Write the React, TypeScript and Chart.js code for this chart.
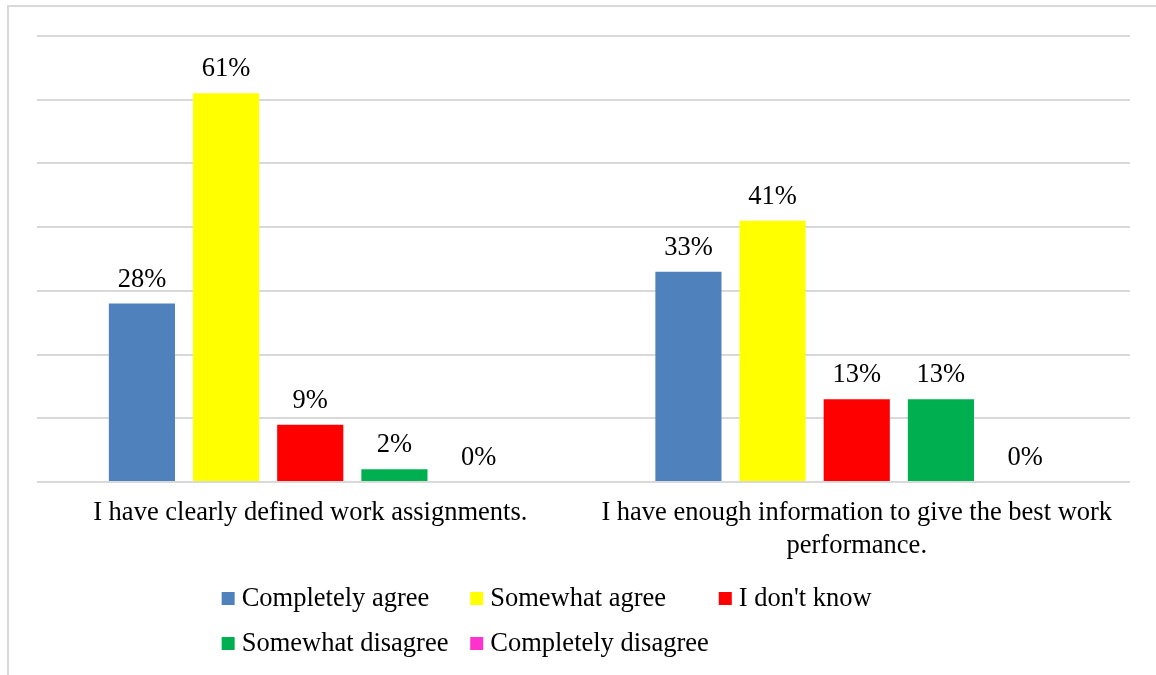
import React, { useEffect, useRef } from "react";
import { Chart, registerables } from "chart.js";

Chart.register(...registerables);

const categories: string[][] = [
  ["I have clearly defined work assignments."],
  ["I have enough information to give the best work", "performance."],
];
const seriesNames = [
  "Completely agree",
  "Somewhat agree",
  "I don't know",
  "Somewhat disagree",
  "Completely disagree",
];
const completelyAgree = [28, 33];
const somewhatAgree = [61, 41];
const dontKnow = [9, 13];
const somewhatDisagree = [2, 13];
const completelyDisagree = [0, 0];
const seriesColors = ["#4F81BD", "#FFFF00", "#FF0000", "#00B050", "#FF33CC"];

const FONT_FAMILY = "'Liberation Serif', 'Times New Roman', serif";
const FONT_SIZE = 26.5;

const framePlugin = {
  id: "frame",
  beforeDraw(chart: any) {
    const ctx = chart.ctx;
    ctx.save();
    ctx.fillStyle = "#ffffff";
    ctx.fillRect(0, 0, chart.width, chart.height);
    ctx.strokeStyle = "#d9d9d9";
    ctx.lineWidth = 2;
    ctx.beginPath();
    ctx.moveTo(8, chart.height + 5);
    ctx.lineTo(8, 6);
    ctx.lineTo(chart.width + 5, 6);
    ctx.stroke();
    ctx.restore();
  },
};

const valueLabelPlugin = {
  id: "valueLabels",
  afterDatasetsDraw(chart: any) {
    const ctx = chart.ctx;
    ctx.save();
    ctx.font = `${FONT_SIZE}px ${FONT_FAMILY}`;
    ctx.fillStyle = "#000000";
    ctx.textAlign = "center";
    ctx.textBaseline = "alphabetic";
    chart.data.datasets.forEach((ds: any, di: number) => {
      const meta = chart.getDatasetMeta(di);
      meta.data.forEach((el: any, i: number) => {
        const v = ds.data[i];
        ctx.fillText(`${v}%`, el.x, el.y - 17);
      });
    });
    ctx.restore();
  },
};

const legendPlugin = {
  id: "gridLegend",
  afterDraw(chart: any) {
    const ctx = chart.ctx;
    ctx.save();
    ctx.font = `${FONT_SIZE}px ${FONT_FAMILY}`;
    ctx.textBaseline = "alphabetic";
    ctx.textAlign = "left";
    const ds = chart.data.datasets;
    const box = 13;
    const textGap = 7;
    const colGap = 10;
    let maxW = 0;
    ds.forEach((d: any) => {
      maxW = Math.max(maxW, ctx.measureText(d.label).width);
    });
    const colW = box + textGap + maxW + colGap;
    const cols = 3;
    const total = cols * colW - colGap;
    const center = (chart.chartArea.left + chart.chartArea.right) / 2;
    const startX = center - total / 2 + 6;
    const rowBaselines = [606, 651];
    ds.forEach((d: any, i: number) => {
      const c = i % cols;
      const r = Math.floor(i / cols);
      const x = startX + c * colW;
      const base = rowBaselines[r];
      ctx.fillStyle = d.backgroundColor;
      ctx.fillRect(x, base - 14, box, box);
      ctx.fillStyle = "#000000";
      ctx.fillText(d.label, x + box + textGap, base);
    });
    ctx.restore();
  },
};

export default function App() {
  const canvasRef = useRef<HTMLCanvasElement | null>(null);

  useEffect(() => {
    if (!canvasRef.current) return;
    const values = [completelyAgree, somewhatAgree, dontKnow, somewhatDisagree, completelyDisagree];
    const chart = new Chart(canvasRef.current, {
      type: "bar",
      data: {
        labels: categories as any,
        datasets: seriesNames.map((name, i) => ({
          label: name,
          data: values[i],
          backgroundColor: seriesColors[i],
          borderWidth: 0,
          categoryPercentage: 0.77,
          barPercentage: 0.786,
        })),
      },
      options: {
        responsive: false,
        animation: false,
        layout: { padding: { left: 37, right: 26, top: 36, bottom: 0 } },
        plugins: {
          legend: { display: false },
          tooltip: { enabled: false },
        },
        scales: {
          x: {
            grid: { display: false, drawTicks: false },
            border: { display: false },
            ticks: {
              color: "#000000",
              font: { family: FONT_FAMILY, size: FONT_SIZE, lineHeight: 1.245 },
              padding: 15,
              maxRotation: 0,
              minRotation: 0,
              autoSkip: false,
            },
            afterFit: (s: any) => {
              s.height = 675 - 482;
            },
          },
          y: {
            min: 0,
            max: 70,
            ticks: { display: false, stepSize: 10 },
            grid: { color: "#d9d9d9", lineWidth: 2, drawTicks: false },
            border: { display: false },
            afterFit: (s: any) => {
              s.width = 0;
            },
          },
        },
      },
      plugins: [framePlugin, valueLabelPlugin, legendPlugin],
    });
    return () => chart.destroy();
  }, []);

  return (
    <div style={{ position: "absolute", left: 0, top: 0, width: 1156, height: 675 }}>
      <canvas ref={canvasRef} width={1156} height={675} style={{ display: "block" }} />
    </div>
  );
}
